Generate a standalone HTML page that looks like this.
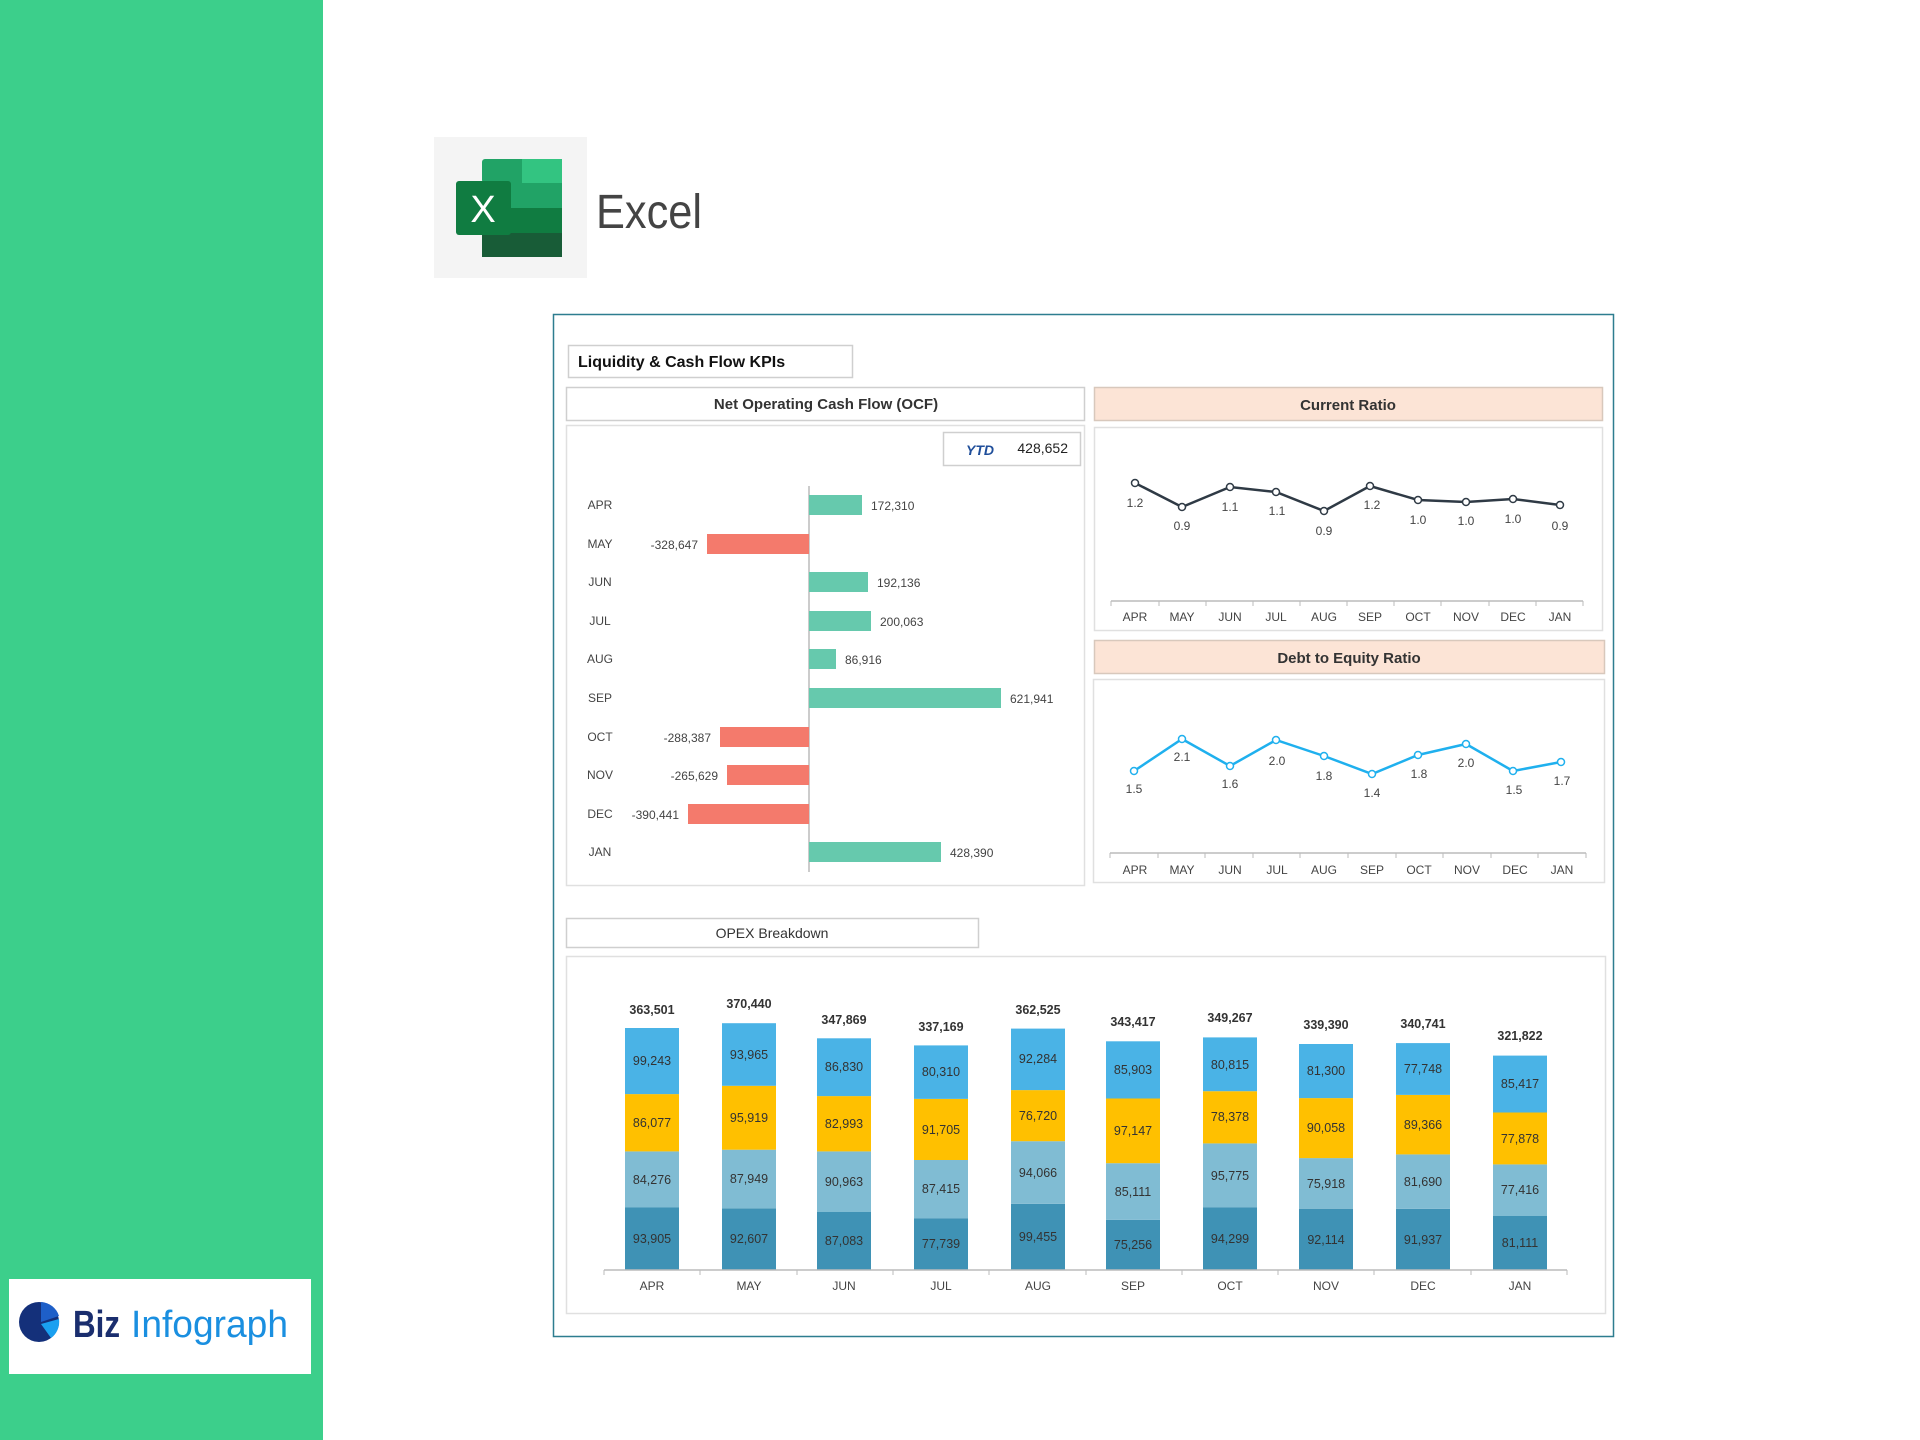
<!DOCTYPE html>
<html><head><meta charset="utf-8"><style>
html,body{margin:0;padding:0;background:#fff;}
svg{display:block;font-family:"Liberation Sans",sans-serif;}
</style></head><body>
<svg width="1920" height="1440" viewBox="0 0 1920 1440" xmlns="http://www.w3.org/2000/svg">
<rect x="0" y="0" width="323" height="1440" fill="#3ccf8b"/>
<!-- logo -->
<rect x="9" y="1279" width="302" height="95" fill="#fff"/>
<circle cx="39" cy="1322" r="20" fill="#14307a"/>
<path d="M41 1322 L41 1302 A20 20 0 0 1 59 1316 Z" fill="#1e5fc8"/>
<path d="M41 1324 L59 1319 A20 20 0 0 1 51 1338 Z" fill="#1aa0f0"/>
<text x="73" y="1337" font-size="38" textLength="47" lengthAdjust="spacingAndGlyphs" font-weight="bold" fill="#1a2e6e">Biz</text>
<text x="131" y="1337" font-size="38" textLength="157" lengthAdjust="spacingAndGlyphs" fill="#1a8fe0">Infograph</text>
<!-- excel header -->
<rect x="434" y="137" width="153" height="141" fill="#f4f4f4"/>
<rect x="482" y="159" width="80" height="24" rx="3" fill="#21a366"/>
<rect x="522" y="159" width="40" height="24" fill="#33c481"/>
<rect x="482" y="183" width="80" height="25" fill="#21a366"/>
<rect x="482" y="208" width="80" height="25" fill="#107c41"/>
<rect x="482" y="233" width="80" height="24" fill="#185c37"/>
<rect x="456" y="181" width="55" height="54" rx="3" fill="#107c41"/>
<text x="483" y="222" font-size="38" fill="#fff" text-anchor="middle">X</text>
<text x="596" y="228" font-size="48" textLength="106" lengthAdjust="spacingAndGlyphs" fill="#444">Excel</text>
<!-- frame -->
<rect x="553.5" y="314.5" width="1060" height="1022" fill="#fff" stroke="#2d7d8f" stroke-width="1.5"/>
<rect x="568.5" y="345.5" width="284" height="32" fill="#fff" stroke="#cfcfcf" stroke-width="1.5"/>
<text x="578" y="367" font-size="16" font-weight="bold" fill="#111">Liquidity &amp; Cash Flow KPIs</text>
<!-- OCF -->
<rect x="566.5" y="387.5" width="518" height="33" fill="#fff" stroke="#cfcfcf" stroke-width="1.5"/>
<text x="826" y="409" font-size="15" font-weight="bold" fill="#333" text-anchor="middle">Net Operating Cash Flow (OCF)</text>
<rect x="566.5" y="425.5" width="518" height="460" fill="#fff" stroke="#e0e0e0" stroke-width="1.5"/>
<rect x="943.5" y="432.5" width="137" height="33" fill="#fff" stroke="#cfcfcf" stroke-width="1.5"/>
<text x="980" y="455" font-size="14" font-weight="bold" font-style="italic" fill="#1f4e9a" text-anchor="middle">YTD</text>
<text x="1068" y="453" font-size="14" fill="#222" text-anchor="end">428,652</text>
<line x1="809" y1="486" x2="809" y2="872" stroke="#bbb" stroke-width="1.5"/>
<g font-size="12" fill="#444">
<g text-anchor="middle">
<text x="600" y="509">APR</text><text x="600" y="548">MAY</text><text x="600" y="586">JUN</text><text x="600" y="625">JUL</text><text x="600" y="663">AUG</text><text x="600" y="702">SEP</text><text x="600" y="741">OCT</text><text x="600" y="779">NOV</text><text x="600" y="818">DEC</text><text x="600" y="856">JAN</text>
</g>
<rect x="809" y="495" width="53" height="20" fill="#66c9ad"/><text x="871" y="510">172,310</text>
<rect x="707" y="534" width="102" height="20" fill="#f47a6c"/><text x="698" y="549" text-anchor="end">-328,647</text>
<rect x="809" y="572" width="59" height="20" fill="#66c9ad"/><text x="877" y="587">192,136</text>
<rect x="809" y="611" width="62" height="20" fill="#66c9ad"/><text x="880" y="626">200,063</text>
<rect x="809" y="649" width="27" height="20" fill="#66c9ad"/><text x="845" y="664">86,916</text>
<rect x="809" y="688" width="192" height="20" fill="#66c9ad"/><text x="1010" y="703">621,941</text>
<rect x="720" y="727" width="89" height="20" fill="#f47a6c"/><text x="711" y="742" text-anchor="end">-288,387</text>
<rect x="727" y="765" width="82" height="20" fill="#f47a6c"/><text x="718" y="780" text-anchor="end">-265,629</text>
<rect x="688" y="804" width="121" height="20" fill="#f47a6c"/><text x="679" y="819" text-anchor="end">-390,441</text>
<rect x="809" y="842" width="132" height="20" fill="#66c9ad"/><text x="950" y="857">428,390</text>
</g>
<!-- Current ratio -->
<rect x="1094.5" y="387.5" width="508" height="33" fill="#fce4d6" stroke="#d8c8bc" stroke-width="1.5"/>
<text x="1348" y="410" font-size="15" font-weight="bold" fill="#333" text-anchor="middle">Current Ratio</text>
<rect x="1094.5" y="427.5" width="508" height="203" fill="#fff" stroke="#e0e0e0" stroke-width="1.5"/>
<polyline points="1135,483 1182,507 1230,487 1276,492 1324,511 1370,486 1418,500 1466,502 1513,499 1560,505" fill="none" stroke="#2f3a45" stroke-width="2.5"/>
<g fill="#fff" stroke="#2f3a45" stroke-width="1.5">
<circle cx="1135" cy="483" r="3.5"/><circle cx="1182" cy="507" r="3.5"/><circle cx="1230" cy="487" r="3.5"/><circle cx="1276" cy="492" r="3.5"/><circle cx="1324" cy="511" r="3.5"/><circle cx="1370" cy="486" r="3.5"/><circle cx="1418" cy="500" r="3.5"/><circle cx="1466" cy="502" r="3.5"/><circle cx="1513" cy="499" r="3.5"/><circle cx="1560" cy="505" r="3.5"/>
</g>
<g font-size="12" fill="#444" text-anchor="middle">
<text x="1135" y="507">1.2</text><text x="1182" y="530">0.9</text><text x="1230" y="511">1.1</text><text x="1277" y="515">1.1</text><text x="1324" y="535">0.9</text><text x="1372" y="509">1.2</text><text x="1418" y="524">1.0</text><text x="1466" y="525">1.0</text><text x="1513" y="523">1.0</text><text x="1560" y="530">0.9</text>
</g>
<line x1="1111" y1="601" x2="1583" y2="601" stroke="#bbb" stroke-width="1.5"/>
<g stroke="#bbb"><line x1="1111" y1="601" x2="1111" y2="606"/><line x1="1159" y1="601" x2="1159" y2="606"/><line x1="1206" y1="601" x2="1206" y2="606"/><line x1="1253" y1="601" x2="1253" y2="606"/><line x1="1300" y1="601" x2="1300" y2="606"/><line x1="1347" y1="601" x2="1347" y2="606"/><line x1="1394" y1="601" x2="1394" y2="606"/><line x1="1441" y1="601" x2="1441" y2="606"/><line x1="1489" y1="601" x2="1489" y2="606"/><line x1="1536" y1="601" x2="1536" y2="606"/><line x1="1583" y1="601" x2="1583" y2="606"/></g>
<g font-size="12" fill="#444" text-anchor="middle">
<text x="1135" y="621">APR</text><text x="1182" y="621">MAY</text><text x="1230" y="621">JUN</text><text x="1276" y="621">JUL</text><text x="1324" y="621">AUG</text><text x="1370" y="621">SEP</text><text x="1418" y="621">OCT</text><text x="1466" y="621">NOV</text><text x="1513" y="621">DEC</text><text x="1560" y="621">JAN</text>
</g>
<!-- Debt to equity -->
<rect x="1094.5" y="640.5" width="510" height="33" fill="#fce4d6" stroke="#d8c8bc" stroke-width="1.5"/>
<text x="1349" y="663" font-size="15" font-weight="bold" fill="#333" text-anchor="middle">Debt to Equity Ratio</text>
<rect x="1093.5" y="679.5" width="511" height="203" fill="#fff" stroke="#e0e0e0" stroke-width="1.5"/>
<polyline points="1134,771 1182,739 1230,766 1276,740 1324,756 1372,774 1418,755 1466,744 1513,771 1561,762" fill="none" stroke="#1fb0ee" stroke-width="2.5"/>
<g fill="#fff" stroke="#1fb0ee" stroke-width="1.5">
<circle cx="1134" cy="771" r="3.5"/><circle cx="1182" cy="739" r="3.5"/><circle cx="1230" cy="766" r="3.5"/><circle cx="1276" cy="740" r="3.5"/><circle cx="1324" cy="756" r="3.5"/><circle cx="1372" cy="774" r="3.5"/><circle cx="1418" cy="755" r="3.5"/><circle cx="1466" cy="744" r="3.5"/><circle cx="1513" cy="771" r="3.5"/><circle cx="1561" cy="762" r="3.5"/>
</g>
<g font-size="12" fill="#444" text-anchor="middle">
<text x="1134" y="793">1.5</text><text x="1182" y="761">2.1</text><text x="1230" y="788">1.6</text><text x="1277" y="765">2.0</text><text x="1324" y="780">1.8</text><text x="1372" y="797">1.4</text><text x="1419" y="778">1.8</text><text x="1466" y="767">2.0</text><text x="1514" y="794">1.5</text><text x="1562" y="785">1.7</text>
</g>
<line x1="1110" y1="853" x2="1586" y2="853" stroke="#bbb" stroke-width="1.5"/>
<g stroke="#bbb"><line x1="1110" y1="853" x2="1110" y2="858"/><line x1="1158" y1="853" x2="1158" y2="858"/><line x1="1205" y1="853" x2="1205" y2="858"/><line x1="1253" y1="853" x2="1253" y2="858"/><line x1="1300" y1="853" x2="1300" y2="858"/><line x1="1348" y1="853" x2="1348" y2="858"/><line x1="1396" y1="853" x2="1396" y2="858"/><line x1="1443" y1="853" x2="1443" y2="858"/><line x1="1491" y1="853" x2="1491" y2="858"/><line x1="1538" y1="853" x2="1538" y2="858"/><line x1="1586" y1="853" x2="1586" y2="858"/></g>
<g font-size="12" fill="#444" text-anchor="middle">
<text x="1135" y="874">APR</text><text x="1182" y="874">MAY</text><text x="1230" y="874">JUN</text><text x="1277" y="874">JUL</text><text x="1324" y="874">AUG</text><text x="1372" y="874">SEP</text><text x="1419" y="874">OCT</text><text x="1467" y="874">NOV</text><text x="1515" y="874">DEC</text><text x="1562" y="874">JAN</text>
</g>
<!-- OPEX -->
<rect x="566.5" y="918.5" width="412" height="29" fill="#fff" stroke="#cfcfcf" stroke-width="1.5"/>
<text x="772" y="938" font-size="14" fill="#333" text-anchor="middle">OPEX Breakdown</text>
<rect x="566.5" y="956.5" width="1039" height="357" fill="#fff" stroke="#e0e0e0" stroke-width="1.5"/>
<g font-size="12.5" fill="#333" text-anchor="middle">
<rect x="625" y="1207.5" width="54" height="62.5" fill="#3f92b5"/><rect x="625" y="1151.4" width="54" height="56.1" fill="#80bcd3"/><rect x="625" y="1094.1" width="54" height="57.3" fill="#ffc000"/><rect x="625" y="1028" width="54" height="66.1" fill="#4ab3e6"/>
<text x="652" y="1243">93,905</text><text x="652" y="1184">84,276</text><text x="652" y="1127">86,077</text><text x="652" y="1065">99,243</text><text x="652" y="1014" font-weight="bold">363,501</text>
<rect x="722" y="1208.3" width="54" height="61.7" fill="#3f92b5"/><rect x="722" y="1149.7" width="54" height="58.6" fill="#80bcd3"/><rect x="722" y="1085.8" width="54" height="63.9" fill="#ffc000"/><rect x="722" y="1023.2" width="54" height="62.6" fill="#4ab3e6"/>
<text x="749" y="1243">92,607</text><text x="749" y="1183">87,949</text><text x="749" y="1122">95,919</text><text x="749" y="1059">93,965</text><text x="749" y="1008" font-weight="bold">370,440</text>
<rect x="817" y="1212" width="54" height="58" fill="#3f92b5"/><rect x="817" y="1151.4" width="54" height="60.6" fill="#80bcd3"/><rect x="817" y="1096.1" width="54" height="55.3" fill="#ffc000"/><rect x="817" y="1038.3" width="54" height="57.8" fill="#4ab3e6"/>
<text x="844" y="1245">87,083</text><text x="844" y="1186">90,963</text><text x="844" y="1128">82,993</text><text x="844" y="1071">86,830</text><text x="844" y="1024" font-weight="bold">347,869</text>
<rect x="914" y="1218.2" width="54" height="51.8" fill="#3f92b5"/><rect x="914" y="1160" width="54" height="58.2" fill="#80bcd3"/><rect x="914" y="1098.9" width="54" height="61.1" fill="#ffc000"/><rect x="914" y="1045.4" width="54" height="53.5" fill="#4ab3e6"/>
<text x="941" y="1248">77,739</text><text x="941" y="1193">87,415</text><text x="941" y="1134">91,705</text><text x="941" y="1076">80,310</text><text x="941" y="1031" font-weight="bold">337,169</text>
<rect x="1011" y="1203.8" width="54" height="66.2" fill="#3f92b5"/><rect x="1011" y="1141.2" width="54" height="62.6" fill="#80bcd3"/><rect x="1011" y="1090.1" width="54" height="51.1" fill="#ffc000"/><rect x="1011" y="1028.6" width="54" height="61.5" fill="#4ab3e6"/>
<text x="1038" y="1241">99,455</text><text x="1038" y="1177">94,066</text><text x="1038" y="1120">76,720</text><text x="1038" y="1063">92,284</text><text x="1038" y="1014" font-weight="bold">362,525</text>
<rect x="1106" y="1219.9" width="54" height="50.1" fill="#3f92b5"/><rect x="1106" y="1163.2" width="54" height="56.7" fill="#80bcd3"/><rect x="1106" y="1098.5" width="54" height="64.7" fill="#ffc000"/><rect x="1106" y="1041.3" width="54" height="57.2" fill="#4ab3e6"/>
<text x="1133" y="1249">75,256</text><text x="1133" y="1196">85,111</text><text x="1133" y="1135">97,147</text><text x="1133" y="1074">85,903</text><text x="1133" y="1026" font-weight="bold">343,417</text>
<rect x="1203" y="1207.2" width="54" height="62.8" fill="#3f92b5"/><rect x="1203" y="1143.4" width="54" height="63.8" fill="#80bcd3"/><rect x="1203" y="1091.2" width="54" height="52.2" fill="#ffc000"/><rect x="1203" y="1037.4" width="54" height="53.8" fill="#4ab3e6"/>
<text x="1230" y="1243">94,299</text><text x="1230" y="1180">95,775</text><text x="1230" y="1121">78,378</text><text x="1230" y="1069">80,815</text><text x="1230" y="1022" font-weight="bold">349,267</text>
<rect x="1299" y="1208.7" width="54" height="61.3" fill="#3f92b5"/><rect x="1299" y="1158.1" width="54" height="50.6" fill="#80bcd3"/><rect x="1299" y="1098.1" width="54" height="60" fill="#ffc000"/><rect x="1299" y="1044" width="54" height="54.1" fill="#4ab3e6"/>
<text x="1326" y="1244">92,114</text><text x="1326" y="1188">75,918</text><text x="1326" y="1132">90,058</text><text x="1326" y="1075">81,300</text><text x="1326" y="1029" font-weight="bold">339,390</text>
<rect x="1396" y="1208.8" width="54" height="61.2" fill="#3f92b5"/><rect x="1396" y="1154.4" width="54" height="54.4" fill="#80bcd3"/><rect x="1396" y="1094.9" width="54" height="59.5" fill="#ffc000"/><rect x="1396" y="1043.1" width="54" height="51.8" fill="#4ab3e6"/>
<text x="1423" y="1244">91,937</text><text x="1423" y="1186">81,690</text><text x="1423" y="1129">89,366</text><text x="1423" y="1073">77,748</text><text x="1423" y="1028" font-weight="bold">340,741</text>
<rect x="1493" y="1216" width="54" height="54" fill="#3f92b5"/><rect x="1493" y="1164.4" width="54" height="51.6" fill="#80bcd3"/><rect x="1493" y="1112.5" width="54" height="51.9" fill="#ffc000"/><rect x="1493" y="1055.6" width="54" height="56.9" fill="#4ab3e6"/>
<text x="1520" y="1247">81,111</text><text x="1520" y="1194">77,416</text><text x="1520" y="1143">77,878</text><text x="1520" y="1088">85,417</text><text x="1520" y="1040" font-weight="bold">321,822</text>
</g>
<line x1="604" y1="1270" x2="1567" y2="1270" stroke="#bbb" stroke-width="1.5"/>
<g stroke="#bbb"><line x1="604" y1="1270" x2="604" y2="1275"/><line x1="700" y1="1270" x2="700" y2="1275"/><line x1="797" y1="1270" x2="797" y2="1275"/><line x1="893" y1="1270" x2="893" y2="1275"/><line x1="989" y1="1270" x2="989" y2="1275"/><line x1="1086" y1="1270" x2="1086" y2="1275"/><line x1="1182" y1="1270" x2="1182" y2="1275"/><line x1="1278" y1="1270" x2="1278" y2="1275"/><line x1="1374" y1="1270" x2="1374" y2="1275"/><line x1="1471" y1="1270" x2="1471" y2="1275"/><line x1="1567" y1="1270" x2="1567" y2="1275"/></g>
<g font-size="12" fill="#444" text-anchor="middle">
<text x="652" y="1290">APR</text><text x="749" y="1290">MAY</text><text x="844" y="1290">JUN</text><text x="941" y="1290">JUL</text><text x="1038" y="1290">AUG</text><text x="1133" y="1290">SEP</text><text x="1230" y="1290">OCT</text><text x="1326" y="1290">NOV</text><text x="1423" y="1290">DEC</text><text x="1520" y="1290">JAN</text>
</g>
</svg>
</body></html>
